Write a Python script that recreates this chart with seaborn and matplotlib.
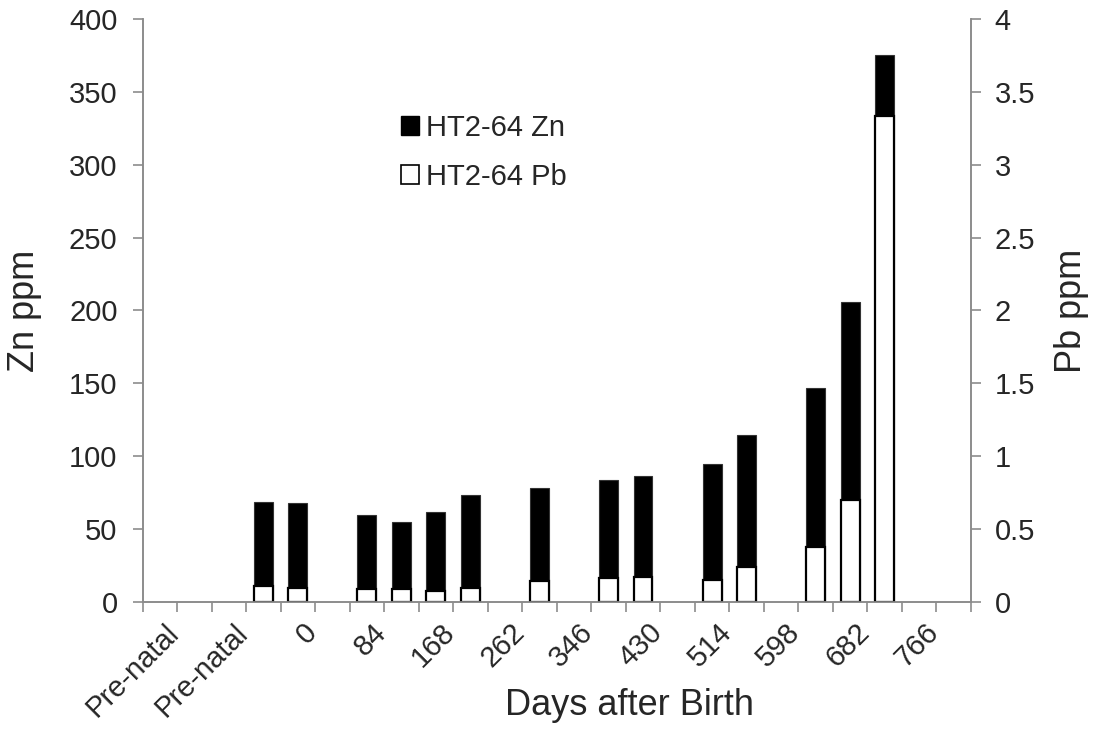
import matplotlib
matplotlib.use("Agg")
import matplotlib.pyplot as plt
import matplotlib.transforms as mtransforms
import seaborn as sns
import pandas as pd
from matplotlib.patches import Patch
from matplotlib.ticker import MultipleLocator, FixedLocator

# ---- data ----
tick_labels = ["Pre-natal", "Pre-natal", "0", "84", "168", "262", "346",
               "430", "514", "598", "682", "766"]
n_slots = 24
bar_slots = [3, 4, 6, 7, 8, 9, 11, 13, 14, 16, 17, 19, 20, 21]
zn_ppm = [68.3, 68.0, 59.3, 54.5, 61.8, 73.3, 78.3, 83.4, 86.3, 94.4,
          114.7, 147.0, 205.6, 375.5]
pb_ppm = [0.110, 0.096, 0.085, 0.085, 0.071, 0.096, 0.144, 0.165, 0.172,
          0.149, 0.236, 0.378, 0.698, 3.336]
series_names = ["HT2-64 Zn", "HT2-64 Pb"]

df = pd.DataFrame({"slot": bar_slots, "zn": zn_ppm, "pb": pb_ppm})

sns.set_style("white")
plt.rcParams["font.family"] = ["Liberation Sans", "DejaVu Sans"]

fig = plt.figure(figsize=(10.97, 7.36), dpi=100)
ax = fig.add_axes([0.130, 0.1825, 0.755, 0.7913])
ax2 = ax.twinx()

order = list(range(n_slots))
sns.barplot(data=df, x="slot", y="zn", order=order, color="black",
            width=0.55, saturation=1, edgecolor="#333333", linewidth=0.8, ax=ax)
sns.barplot(data=df, x="slot", y="pb", order=order, color="white",
            width=0.55, saturation=1, edgecolor="black", linewidth=1.6, ax=ax2)

grey = "#8c8c8c"
for a in (ax, ax2):
    a.set_xlim(-0.5, n_slots - 0.5)
    for s in a.spines.values():
        s.set_color(grey)
        s.set_linewidth(1.2)
    a.spines["top"].set_visible(False)

ax.set_ylim(0, 400)
ax2.set_ylim(0, 4)
ax.yaxis.set_major_locator(MultipleLocator(50))
ax2.yaxis.set_major_locator(MultipleLocator(0.5))
ax2.set_yticklabels([f"{v:g}" for v in ax2.get_yticks()])

fs = 21
# x ticks: labels on every other category, tick marks between categories
ax.xaxis.set_major_locator(FixedLocator(list(range(0, n_slots, 2))))
ax.set_xticklabels(tick_labels, rotation=45, ha="right", rotation_mode="anchor")
ax.xaxis.set_minor_locator(FixedLocator([i - 0.5 for i in range(n_slots + 1)]))
ax.tick_params(axis="x", which="major", length=0, pad=12, labelsize=fs)
ax.tick_params(axis="x", which="minor", length=7, width=1.2, color=grey,
               direction="out", bottom=True)
ax.tick_params(axis="y", which="major", length=7, width=1.2, color=grey,
               direction="out", left=True, pad=11, labelsize=fs)
ax2.tick_params(axis="y", which="major", length=7, width=1.2, color=grey,
                direction="out", right=True, pad=10, labelsize=fs)
ax2.tick_params(axis="x", which="both", length=0)

shift = mtransforms.ScaledTranslation(5 / 100, 0, fig.dpi_scale_trans)
for lab in ax.get_xticklabels():
    lab.set_transform(lab.get_transform() + shift)

ax.set_xlabel("Days after Birth", fontsize=26)
ax.xaxis.set_label_coords(0.588, -0.148)
ax.set_ylabel("Zn ppm", fontsize=26)
ax.yaxis.set_label_coords(-0.122, 0.5)
ax2.set_ylabel("Pb ppm", fontsize=26, labelpad=14)

handles = [Patch(facecolor="black", edgecolor="black"),
           Patch(facecolor="white", edgecolor="black", linewidth=1.2)]
ax2.legend(handles, series_names, loc="upper left",
           bbox_to_anchor=(0.312, 0.837), frameon=False, fontsize=fs,
           handlelength=0.62, handleheight=0.62, handletextpad=0.25,
           labelspacing=0.7, borderaxespad=0, borderpad=0)

fig.savefig("out.png", dpi=100)
